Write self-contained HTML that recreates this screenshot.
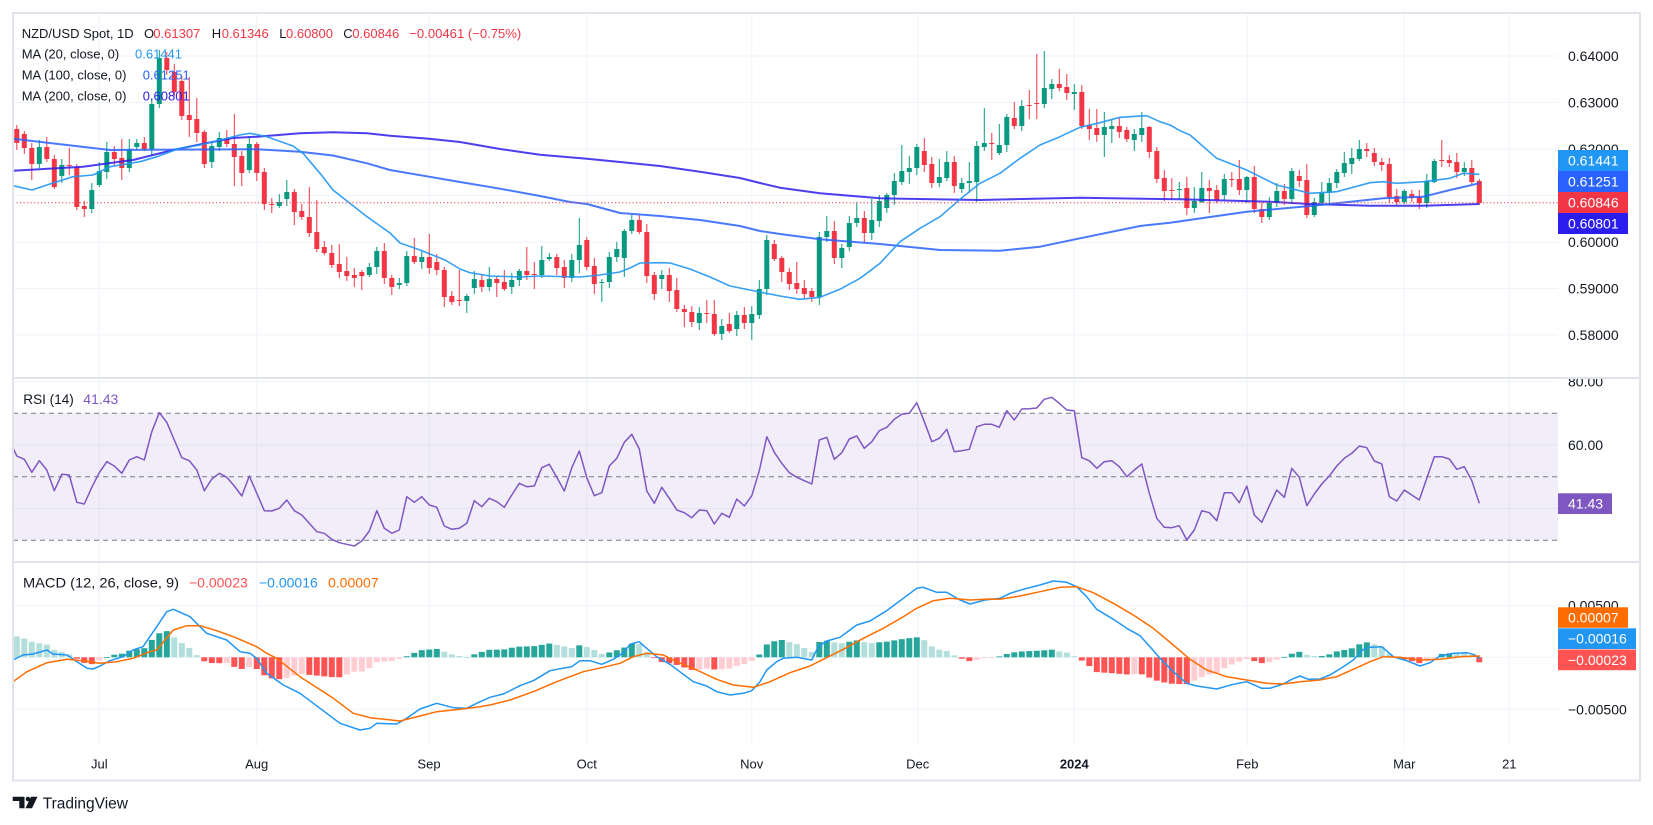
<!DOCTYPE html>
<html><head><meta charset="utf-8"><title>NZD/USD Spot 1D</title>
<style>
html,body{margin:0;padding:0;background:#fff;width:1653px;height:825px;overflow:hidden}
svg{display:block}
text{font-family:"Liberation Sans",Arial,sans-serif;}
</style></head><body>
<svg id="s" width="1653" height="825" viewBox="0 0 1653 825" xmlns="http://www.w3.org/2000/svg">
<defs>
<clipPath id="cm"><rect x="13" y="13" width="1545" height="364"/></clipPath>
<clipPath id="cr"><rect x="13" y="379" width="1545" height="182"/></clipPath>
<clipPath id="cd"><rect x="13" y="563" width="1545" height="183"/></clipPath>
<clipPath id="ar"><rect x="1558" y="379" width="82" height="182"/></clipPath>
</defs>
<rect x="0" y="0" width="1653" height="825" fill="#fff"/>
<!-- grid -->
<g stroke="#f0f3fa" stroke-width="1">
<line x1="13" x2="1558" y1="56" y2="56"/>
<line x1="13" x2="1558" y1="102.5" y2="102.5"/>
<line x1="13" x2="1558" y1="149" y2="149"/>
<line x1="13" x2="1558" y1="195.5" y2="195.5"/>
<line x1="13" x2="1558" y1="242" y2="242"/>
<line x1="13" x2="1558" y1="288.5" y2="288.5"/>
<line x1="13" x2="1558" y1="335" y2="335"/>
<line x1="13" x2="1558" y1="381.5" y2="381.5"/>
<line x1="13" x2="1558" y1="445" y2="445"/>
<line x1="13" x2="1558" y1="508.5" y2="508.5"/>
<line x1="13" x2="1558" y1="605.7" y2="605.7"/>
<line x1="13" x2="1558" y1="657.3" y2="657.3"/>
<line x1="13" x2="1558" y1="709.3" y2="709.3"/>
<line x1="99.3" x2="99.3" y1="13" y2="746"/>
<line x1="256.7" x2="256.7" y1="13" y2="746"/>
<line x1="429" x2="429" y1="13" y2="746"/>
<line x1="586.7" x2="586.7" y1="13" y2="746"/>
<line x1="751.7" x2="751.7" y1="13" y2="746"/>
<line x1="917.7" x2="917.7" y1="13" y2="746"/>
<line x1="1074.3" x2="1074.3" y1="13" y2="746"/>
<line x1="1247.3" x2="1247.3" y1="13" y2="746"/>
<line x1="1404.3" x2="1404.3" y1="13" y2="746"/>
<line x1="1509.3" x2="1509.3" y1="13" y2="746"/>
</g>
<!-- RSI band -->
<rect x="13" y="413.3" width="1545" height="127" fill="#7e57c2" fill-opacity="0.1"/>
<g stroke="#787b86" stroke-width="1" stroke-dasharray="5,4">
<line x1="13" x2="1558" y1="413.3" y2="413.3"/>
<line x1="13" x2="1558" y1="476.8" y2="476.8"/>
<line x1="13" x2="1558" y1="540.3" y2="540.3"/>
</g>
<g id="gm" clip-path="url(#cm)"></g>
<g id="gr" clip-path="url(#cr)"></g>
<g id="gd" clip-path="url(#cd)"></g>
<!-- frame & separators -->
<rect x="13" y="13" width="1627" height="767.5" fill="none" stroke="#e0e3eb" stroke-width="2"/>
<line x1="13" x2="1640" y1="378" y2="378" stroke="#e0e3eb" stroke-width="2"/>
<line x1="13" x2="1640" y1="562" y2="562" stroke="#e0e3eb" stroke-width="2"/>
<!-- main legend -->
<g font-size="13" fill="#131722">
<text x="21.7" y="38">NZD/USD Spot, 1D</text>
<text x="144" y="38">O</text><text x="153.3" y="38" fill="#f23645">0.61307</text>
<text x="211.7" y="38">H</text><text x="221.7" y="38" fill="#f23645">0.61346</text>
<text x="279.3" y="38">L</text><text x="286" y="38" fill="#f23645">0.60800</text>
<text x="343.3" y="38">C</text><text x="352.3" y="38" fill="#f23645">0.60846</text>
<text x="409.3" y="38" fill="#f23645" textLength="112" lengthAdjust="spacingAndGlyphs">−0.00461 (−0.75%)</text>
<text x="21.7" y="58.5">MA (20, close, 0)</text><text x="135" y="58.5" fill="#2196f3">0.61441</text>
<text x="21.7" y="79.7">MA (100, close, 0)</text><text x="142.7" y="79.7" fill="#2962ff">0.61251</text>
<text x="21.7" y="100.7">MA (200, close, 0)</text><text x="142.7" y="100.7" fill="#2b1ded">0.60801</text>
</g>
<g font-size="14" fill="#131722">
<text x="23.3" y="404" textLength="50.5" lengthAdjust="spacingAndGlyphs">RSI (14)</text><text x="83.3" y="404" fill="#7e57c2">41.43</text>
<text x="23" y="587.7" textLength="156" lengthAdjust="spacingAndGlyphs">MACD (12, 26, close, 9)</text>
<text x="189" y="587.7" fill="#ff5252">−0.00023</text>
<text x="259" y="587.7" fill="#2196f3">−0.00016</text>
<text x="328" y="587.7" fill="#ff6d00">0.00007</text>
</g>
<!-- price axis -->
<g font-size="14" fill="#131722">
<text x="1568" y="61">0.64000</text>
<text x="1568" y="107.5">0.63000</text>
<text x="1568" y="154">0.62000</text>
<text x="1568" y="247">0.60000</text>
<text x="1568" y="293.5">0.59000</text>
<text x="1568" y="340">0.58000</text>
<g clip-path="url(#ar)">
<text x="1568" y="386.5">80.00</text>
<text x="1568" y="450">60.00</text>
<text x="1568" y="513.5">40.00</text>
</g>
<text x="1568" y="610.7">0.00500</text>
<text x="1568" y="714.3">−0.00500</text>
</g>
<g font-size="14" fill="#fff">
<rect x="1558" y="150" width="70" height="21" fill="#2196f3"/><text x="1568" y="165.5">0.61441</text>
<rect x="1558" y="171" width="70" height="21" fill="#2962ff"/><text x="1568" y="186.5">0.61251</text>
<rect x="1558" y="192" width="70" height="21" fill="#f23645"/><text x="1568" y="207.5">0.60846</text>
<rect x="1558" y="213" width="70" height="21" fill="#2b1ded"/><text x="1568" y="228.5">0.60801</text>
<rect x="1558" y="493.3" width="54" height="20.7" fill="#7e57c2"/><text x="1568" y="508.7">41.43</text>
<rect x="1558" y="607.3" width="70" height="20.5" fill="#ff6d00"/><text x="1568" y="622.5">0.00007</text>
<rect x="1558" y="628.3" width="78" height="20.7" fill="#2196f3"/><text x="1568" y="643.7">−0.00016</text>
<rect x="1558" y="649.5" width="78" height="20.7" fill="#ff5252"/><text x="1568" y="664.9">−0.00023</text>
</g>
<!-- time axis -->
<g font-size="13" fill="#131722" text-anchor="middle">
<text x="99.3" y="768.7">Jul</text>
<text x="256.7" y="768.7">Aug</text>
<text x="429" y="768.7">Sep</text>
<text x="586.7" y="768.7">Oct</text>
<text x="751.7" y="768.7">Nov</text>
<text x="917.7" y="768.7">Dec</text>
<text x="1074.3" y="768.7" font-weight="bold">2024</text>
<text x="1247.3" y="768.7">Feb</text>
<text x="1404.3" y="768.7">Mar</text>
<text x="1509.3" y="768.7">21</text>
</g>
<!-- TradingView logo -->
<g fill="#131722">
<path d="M12.7 796.7 H24.5 V808.3 H19.3 V801 H12.7 Z"/>
<circle cx="28" cy="799" r="2.3"/>
<polygon points="31,796.7 37.5,796.7 32,808.3 25.5,808.3"/>
<text x="42.7" y="808.5" font-size="15.5">TradingView</text>
</g>
</svg>
<script>
(function(){
const NS='http://www.w3.org/2000/svg';
function E(t,a,p){const e=document.createElementNS(NS,t);for(const k in a)e.setAttribute(k,a[k]);p.appendChild(e);return e;}
const X=i=>99.3+7.5*i;
const gm=document.getElementById('gm'),gr=document.getElementById('gr'),gd=document.getElementById('gd');
const C=[
[129,143,125,0],[134,148,0,0],[148,164,0,180],[164,147,140,0],[147,159,137,0],[159,187,0,0],[176,165,0,0],[165,166,148,175],[167,207,0,210],[206,209,0,217],[209,190,0,213],
[185,171,162,0],[172,152,142,0],[152,159,0,0],[158,168,139,180],[168,149,139,0],[147,143,139,0],[143,149,137,0],[149,104,98,156],[104,58,50,108],[58,70,0,0],
[72,92,0,0],[81,116,76,120],[115,120,77,137],[119,133,98,142],[132,164,0,168],[162,146,0,168],[147,138,0,0],[138,144,0,0],[144,157,114,186],[156,173,0,186],
[170,144,137,173],[144,173,0,181],[172,204,0,210],[204,205,0,213],[206,202,0,0],[199,192,180,0],[192,212,189,225],[211,217,0,220],[217,233,187,0],[232,249,200,0],
[247,253,0,0],[253,265,0,268],[264,272,244,0],[271,276,257,0],[275,278,0,287],[272,276,0,290],[275,267,0,0],[267,251,247,0],[251,278,0,0],[278,287,0,295],
[285,283,0,0],[283,256,251,0],[256,262,238,0],[262,257,251,0],[257,268,234,0],[262,270,0,0],[270,297,0,307],[296,302,0,0],[300,301,270,306],[301,296,0,313],
[288,279,271,0],[280,287,274,0],[287,279,267,0],[279,283,0,297],[282,289,270,291],[287,280,0,0],[280,271,0,286],[271,275,247,0],[274,275,262,289],[275,260,246,0],
[259,257,253,0],[257,268,254,0],[267,278,0,288],[278,260,254,282],[260,245,218,273],[240,267,237,0],[266,284,0,294],[283,282,0,302],[282,257,0,0],[257,249,0,0],
[258,231,0,277],[231,220,215,0],[220,232,215,0],[232,276,0,0],[275,294,0,0],[279,275,0,289],[275,291,0,302],[290,309,278,0],[309,312,0,327],[312,322,0,327],
[323,313,307,330],[313,314,300,323],[314,334,300,336],[334,326,0,340],[324,331,313,0],[329,315,311,0],[315,323,307,0],[323,314,0,340],[315,289,280,0],[289,240,0,295],
[244,259,240,0],[258,272,0,282],[272,284,0,0],[283,289,262,0],[288,294,0,298],[291,297,288,302],[297,237,0,305],[237,231,216,242],[231,258,221,0],[258,248,0,268],
[247,223,216,0],[223,218,202,227],[218,233,211,243],[233,220,199,0],[221,201,195,0],[208,195,0,0],[195,181,173,205],[182,171,145,0],[172,168,156,184],[168,147,0,0],
[151,165,138,172],[164,183,0,0],[183,177,159,0],[178,162,151,0],[162,186,0,193],[189,183,178,193],[183,181,162,193],[182,146,0,202],[147,143,108,0],[143,144,133,160],
[153,145,124,155],[145,117,114,0],[118,126,102,129],[126,106,100,131],[105,106,90,119],[103,104,54,119],[104,88,51,108],[89,84,79,99],[84,88,69,91],[87,93,74,100],
[94,92,84,110],[92,126,85,0],[125,129,109,140],[128,135,109,0],[135,127,112,157],[129,126,120,143],[126,132,118,138],[130,139,0,142],[140,134,0,151],[135,128,112,0],
[127,152,126,0],[151,179,0,183],[178,191,170,201],[190,191,178,199],[190,189,182,199],[188,208,177,0],[208,201,187,213],[202,188,172,203],[188,191,180,213],[190,200,185,0],
[195,179,174,200],[179,180,172,187],[179,190,160,195],[190,177,176,203],[177,209,166,213],[209,217,203,223],[217,203,0,220],[203,191,183,207],[191,199,184,205],[199,171,168,0],
[176,181,170,187],[180,215,164,218],[215,202,198,217],[203,193,182,205],[193,183,178,205],[183,172,169,0],[173,163,152,0],[164,158,148,174],[159,149,140,0],[149,151,143,157],
[153,162,148,166],[162,165,158,171],[164,197,158,203],[196,202,189,205],[202,191,189,204],[194,198,190,202],[197,203,190,209],[203,181,174,208],[182,161,159,183],[160,161,140,167],
[160,163,155,167],[162,172,153,178],[172,168,162,176],[168,182,160,184],[181,203,179,205]
];
function pts(P){return P.map(p=>p[0]+','+p[1]).join(' ');}
// candles
C.forEach((d,k)=>{const i=k-11;let o=d[0],c=d[1],h=d[2],l=d[3];
 const top=Math.min(o,c),bot=Math.max(o,c);
 if(!h||h>top)h=top-(2+(((i*37)%7)+7)%7);
 if(!l||l<bot)l=bot+(2+(((i*53)%6)+6)%6);
 const col=(c<o)?'#089981':'#f23645';
 const x=X(i);
 E('line',{x1:x,x2:x,y1:h,y2:l,stroke:col,'stroke-width':1},gm);
 E('rect',{x:x-2.5,y:top,width:5,height:Math.max(1,bot-top),fill:col},gm);
});
const MA20=[[13,185.7],[32,190],[53,183],[73,176.7],[93,175],[110,166.7],[140,161.7],[157,156.7],[180,148.3],[200,145],[220,140],[240,135],[250,133.3],[267,136.7],[293,146],[303,153.3],[320,173.3],[333,190],[367,216.7],[390,233],[400,243],[420,250],[445,260],[460,269],[470,272.7],[490,276],[520,277],[540,276],[580,277],[600,275],[620,272],[630,268],[640,263],[660,262.7],[670,263],[690,269],[710,277],[730,286],[760,292],[780,296],[800,299.3],[820,297.3],[840,289.3],[860,278.3],[880,263.3],[900,241.7],[920,228.3],[940,216.7],[960,199.3],[980,183.3],[1000,173.3],[1020,158.3],[1040,145],[1060,136.7],[1080,127.3],[1100,122.7],[1120,117.3],[1146.7,115.7],[1160,121.7],[1170,125],[1180,130.7],[1190,135],[1216.7,158.3],[1246.7,170],[1276.7,185],[1310,193.3],[1336.7,191.7],[1370,182.7],[1383.3,181.7],[1396.7,183.3],[1423.3,181.7],[1450,178.3],[1463.3,173.3],[1479.3,174.3]];
const MA100=[[13,138.7],[110,150],[257,149.3],[300,151.7],[333,155.5],[367,163.3],[390,170],[429,176.7],[460,182],[500,188.7],[540,196],[570,202],[587,204],[620,213],[660,216],[700,220],[740,226],[760,231],[780,234],[820,239.3],[880,244],[940,250],[1000,250.7],[1040,246.7],[1080,238.3],[1140,226],[1170,222.7],[1246.7,211.7],[1310,206],[1336.7,203.3],[1383.3,198.3],[1423.3,196.7],[1450,190],[1479.3,183.3]];
const MA200=[[13,170.7],[83,166.7],[133,160],[173,150],[207,143],[233,138],[257,136.7],[300,133.3],[333,132.3],[367,133.3],[390,135.7],[429,138.7],[460,142],[500,149],[540,154.7],[587,158.7],[630,163],[660,166],[700,171.7],[740,178],[760,183],[780,187.7],[820,193.3],[880,198.3],[980,200],[1080,197.7],[1180,199.3],[1270,201.7],[1310,204],[1370,205.7],[1423.3,205.7],[1479.3,204]];
E('polyline',{points:pts(MA200),fill:'none',stroke:'#2b1ded','stroke-width':2,'stroke-opacity':0.85,'stroke-linejoin':'round'},gm);
E('polyline',{points:pts(MA100),fill:'none',stroke:'#2962ff','stroke-width':2,'stroke-opacity':0.85,'stroke-linejoin':'round'},gm);
E('polyline',{points:pts(MA20),fill:'none',stroke:'#2196f3','stroke-width':1.6,'stroke-opacity':0.9,'stroke-linejoin':'round'},gm);
E('line',{x1:13,x2:1558,y1:202.7,y2:202.7,stroke:'#f23645','stroke-width':1,'stroke-dasharray':'1.2,2.3'},gm);
// RSI
const R=[440,456,459.3,472.3,460.7,470,490.7,474.3,475,502.3,504,487.3,
472.7,461.7,466,473.3,460,456.7,460,431.7,412.7,422.3,
440,457.7,460.7,470,490.7,479,473.3,477.3,486,496,
476,493.3,510.7,511,508.3,500,510.7,515,523.3,531.7,
533.3,539.3,542.7,544.3,546,541,531,510.7,528.3,533.3,
530,496.7,502.3,496.7,505,507.3,526,529.3,528.3,523.3,
500.7,506.7,498.3,501.7,507.3,495,483.3,486.7,486,467.7,
464.3,477.3,491,467.7,451,477.7,495.7,492.7,466,458.3,
442.3,434.3,449,491,503.3,487.3,498.3,510,512.7,517.7,
510,510.7,524,513.3,517.3,499,506,495.7,470.7,436.7,
452.3,463.3,472.7,477.3,480.7,484,440,437.3,459.3,452.7,
439,436,448.3,441.7,430.7,427.3,419.3,414.3,413.3,402.7,
421.7,441.7,438.3,429.3,451.7,450.7,449.3,426.7,424.3,424.3,
427.3,410.7,420,409,408.7,408,399.3,397.3,403.3,410,
410.7,457.7,460.7,468.3,461.7,460.7,466.7,476.7,470,464,
493.3,518.3,527.3,527.7,525.7,540,530,510.7,512.7,520.7,
492.7,492.7,502.7,486,515,522.3,506,490,497.3,468.3,
477.3,505.7,494,484,476,466,458.3,453.3,446,447.7,
461,464,496.7,501,490,495,500,478.3,456.7,456.7,
459,469.3,466.7,480.7,503.3];
E('polyline',{points:R.map((y,k)=>X(k-12).toFixed(1)+','+y).join(' '),fill:'none',stroke:'#7e57c2','stroke-width':1.5,'stroke-linejoin':'round'},gr);
// MACD
const B=[[13,660],[23,655],[33,654],[47,650],[53,654],[67,655],[77,661.7],[87,668.3],[93,669],[100,666],[110,660.7],[123,656.7],[133,650],[143,646.7],[156.7,626.7],[166.7,611.7],[173.3,609.3],[190,616.7],[200,626.7],[206.7,633.3],[226.7,640],[240,651.7],[250,653.3],[256.7,658.3],[266.7,673.3],[283.3,685],[300,693.3],[320,708.3],[340,723.3],[360,730],[370,728.3],[376.7,723.3],[396.7,724],[406.7,718.3],[420,709],[436.7,703.3],[453.3,707.7],[466.7,708.3],[476.7,703.3],[490,697.3],[503.3,694],[520,685.7],[533.3,680.7],[550,670.7],[560,668.7],[571.7,666.7],[580,660.7],[590,660.7],[601.7,664.3],[613.3,659.3],[623.3,652.7],[630,644.3],[639,641.7],[646.7,648.3],[656.7,656.7],[670,664.3],[683.3,674.3],[693.3,681.7],[706.7,686],[716.7,691.7],[730,695],[743.3,693.3],[751.7,690.7],[760,681.7],[766.7,670],[776.7,661.7],[783.3,658.3],[796.7,657.3],[811.7,660],[818.3,646.7],[826.7,641],[840,637.3],[856.7,625],[870,621],[886.7,610.7],[903.3,598.3],[916.7,588.3],[923.3,587.3],[936.7,592.3],[946.7,592.3],[960,600],[970,604],[985,600],[1000,598.3],[1010,593.3],[1023.3,589.3],[1040,585],[1053.3,581],[1066.7,582.3],[1076.7,586.7],[1086.7,596.7],[1096.7,609.3],[1113.3,619.3],[1126.7,628.3],[1140,635.7],[1150,646.7],[1160,658.3],[1173.3,671.7],[1186.7,683.3],[1196.7,686],[1216.7,689],[1233.3,684.3],[1246.7,681.7],[1261.7,688.3],[1270,688.3],[1283.3,684],[1291.7,679.3],[1300,676],[1308.3,679.3],[1320,679],[1330,675],[1343.3,666.7],[1353.3,660],[1363.3,649.3],[1370,647.3],[1381.7,646.7],[1393.3,656.7],[1406.7,660.7],[1420,666],[1430,662.7],[1440,656],[1453.3,653.3],[1466.7,652.7],[1473.3,654.3],[1480,658.3]];
const O=[[13,681.7],[27,671.7],[47,662.7],[67,659.3],[83,660.7],[100,663.3],[117,661.7],[133,658.3],[150,651.7],[156.7,650],[173.3,630],[186.7,625.7],[200,625.7],[216.7,630.7],[233.3,636.7],[256.7,646.7],[266.7,653.3],[276.7,658.3],[300,676.7],[333.3,698.3],[353.3,713.3],[370,717.7],[400,721],[420,716],[436.7,711.7],[460,709.3],[480,706.7],[490,705],[510,700],[533.3,691.7],[556.7,681.7],[583.3,671.7],[603.3,667.3],[620,663.3],[633.3,656.7],[646.7,653.3],[663.3,655],[676.7,661.7],[696.7,670],[716.7,679.3],[733.3,685],[753.3,687.3],[770,681.7],[790,672.7],[810,666],[823.3,659.3],[843.3,649.3],[863.3,638.3],[883.3,628.3],[903.3,616.7],[916.7,608.3],[933.3,600.7],[950,598.3],[970,600],[990,599],[1000,599.3],[1020,596],[1040,591.7],[1060,587.3],[1076.7,586.7],[1093.3,592.7],[1113.3,603.3],[1133.3,615],[1153.3,628.3],[1173.3,645],[1190,659.3],[1206.7,670],[1226.7,676.7],[1246.7,680],[1266.7,683.3],[1283.3,684],[1300,681.7],[1320,680],[1336.7,676.7],[1353.3,669.3],[1370,661.7],[1383.3,656.7],[1400,657.3],[1420,660],[1440,659.3],[1460,656.7],[1480,656]];
function ip(P,x){if(x<=P[0][0])return P[0][1];for(let j=1;j<P.length;j++){if(x<=P[j][0]){const a=P[j-1],b=P[j];return a[1]+(b[1]-a[1])*(x-a[0])/(b[0]-a[0]);}}return P[P.length-1][1];}
const Z=657.3;let prev=null;
for(let i=-11;i<=184;i++){const x=X(i);let h=ip(O,x)-ip(B,x);
 if(i===184)h=-5;
 let col;if(prev===null)prev=h+1;
 if(h>=0)col=(h>prev)?'#26a69a':'#b2dfdb';else col=(h<prev)?'#ff5252':'#ffcdd2';
 prev=h;
 E('rect',{x:x-3,y:Math.min(Z,Z-h),width:6,height:Math.max(0.8,Math.abs(h)),fill:col},gd);
}
E('polyline',{points:pts(B),fill:'none',stroke:'#2196f3','stroke-width':1.5,'stroke-linejoin':'round'},gd);
E('polyline',{points:pts(O),fill:'none',stroke:'#ff6d00','stroke-width':1.5,'stroke-linejoin':'round'},gd);
})();
</script>
</body></html>
